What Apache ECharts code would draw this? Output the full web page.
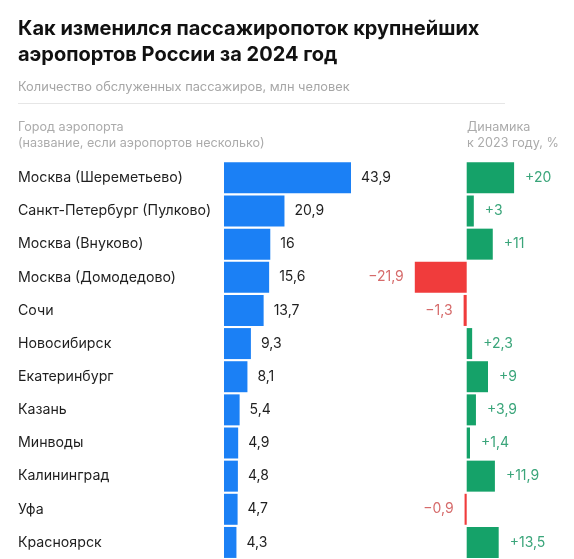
<!DOCTYPE html>
<html><head><meta charset="utf-8">
<script src="https://cdn.jsdelivr.net/npm/echarts@6/dist/echarts.min.js"></script>
<style>html,body{margin:0;padding:0;background:#fff}#c{width:574px;height:559px}</style>
</head><body><div id="c"></div>
<script>
const cities = ['Москва (Шереметьево)', 'Санкт-Петербург (Пулково)', 'Москва (Внуково)', 'Москва (Домодедово)', 'Сочи', 'Новосибирск', 'Екатеринбург', 'Казань', 'Минводы', 'Калининград', 'Уфа', 'Красноярск'];
const passengers = [43.9, 20.9, 16, 15.6, 13.7, 9.3, 8.1, 5.4, 4.9, 4.8, 4.7, 4.3];
const change = [20, 3, 11, -21.9, -1.3, 2.3, 9, 3.9, 1.4, 11.9, -0.9, 13.5];

const FONT = 'Inter, Roboto, sans-serif';
const fmt = v => String(v).replace('.', ',');
const chart = echarts.init(document.getElementById('c'), null, {renderer: 'canvas'});

const gridTop = 161.3, gridH = 400.8;
const txt = (x, y, text, size, color, weight) => ({
  type: 'text', left: x, top: y,
  style: {text, x: 0, y: 0, fill: color, font: (weight || 'normal') + ' ' + size + 'px ' + FONT, textVerticalAlign: 'middle'}
});

chart.setOption({
  backgroundColor: '#fff',
  animation: false,
  textStyle: {fontFamily: FONT},
  grid: [
    {left: 224, top: gridTop, width: 50 * 2.893, height: gridH},
    {left: 466.7 - 25 * 2.37, top: gridTop, width: 50 * 2.37, height: gridH}
  ],
  xAxis: [
    {gridIndex: 0, type: 'value', min: 0, max: 50, show: false},
    {gridIndex: 1, type: 'value', min: -25, max: 25, show: false}
  ],
  yAxis: [
    {gridIndex: 0, type: 'category', data: cities, inverse: true,
     axisLine: {show: false}, axisTick: {show: false}, splitLine: {show: false},
     axisLabel: {align: 'left', margin: 206, color: '#1f1f1f', fontSize: 14.2, fontFamily: FONT}},
    {gridIndex: 1, type: 'category', data: cities, inverse: true, show: false}
  ],
  series: [
    {type: 'bar', xAxisIndex: 0, yAxisIndex: 0, data: passengers, barWidth: 31,
     itemStyle: {color: '#1b80f5'},
     label: {show: true, position: 'right', distance: 10, color: '#1f1f1f', fontSize: 14, fontFamily: FONT,
             formatter: p => fmt(p.value)}},
    {type: 'bar', xAxisIndex: 1, yAxisIndex: 1, barWidth: 31,
     data: change.map(v => ({
       value: v,
       itemStyle: {color: v >= 0 ? '#15a269' : '#f03c3c'},
       label: {position: v >= 0 ? 'right' : 'left', color: v >= 0 ? '#3aa57a' : '#d66b6b'}
     })),
     label: {show: true, distance: 11, fontSize: 14, fontFamily: FONT,
             formatter: p => (p.value >= 0 ? '+' : '−') + fmt(Math.abs(p.value))}}
  ],
  graphic: [
    txt(18, 29 - 10, 'Как изменился пассажиропоток крупнейших', 20, '#111', 'bold'),
    txt(18, 55 - 10, 'аэропортов России за 2024 год', 20, '#111', 'bold'),
    txt(18, 87 - 6.5, 'Количество обслуженных пассажиров, млн человек', 12.8, '#a6a6a6'),
    {type: 'line', shape: {x1: 18, y1: 103.5, x2: 505, y2: 103.5}, style: {stroke: '#e6e6e6', lineWidth: 1}},
    txt(18, 127 - 6.3, 'Город аэропорта', 12.6, '#ababab'),
    txt(18, 143 - 6.3, '(название, если аэропортов несколько)', 12.6, '#ababab'),
    txt(467, 127 - 6.3, 'Динамика', 12.6, '#ababab'),
    txt(467, 143 - 6.3, 'к 2023 году, %', 12.6, '#ababab')
  ]
});
</script></body></html>
